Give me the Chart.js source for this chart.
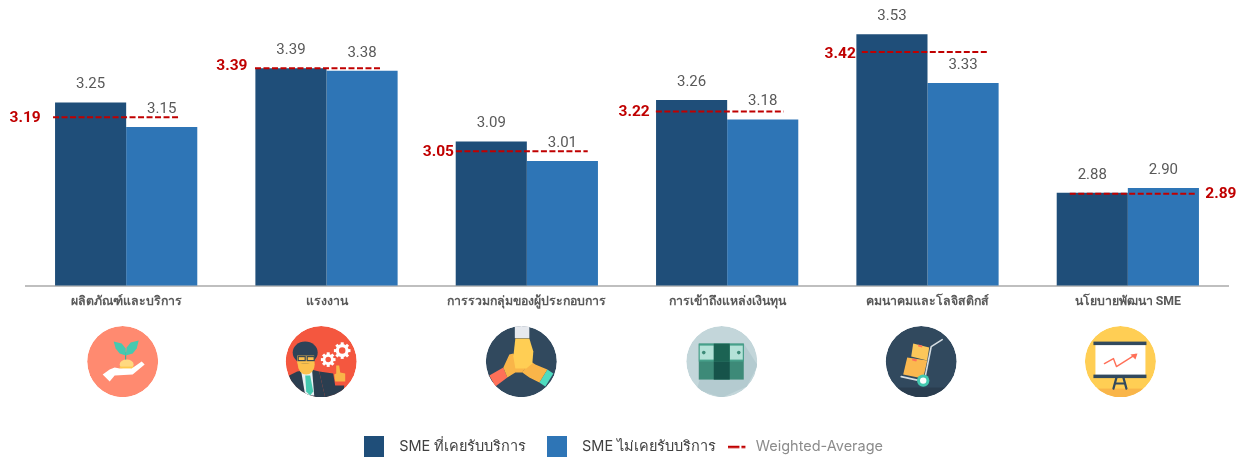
<!DOCTYPE html>
<html><head><meta charset="utf-8">
<style>html,body{margin:0;padding:0;background:#fff;overflow:hidden}#w{width:1247px;height:457px;overflow:hidden}canvas{display:block}</style>
<script src="https://cdn.jsdelivr.net/npm/chart.js@4"></script></head>
<body><div id="w"><canvas id="c" width="1247" height="464"></canvas></div>
<script>
const categories=["ผลิตภัณฑ์และบริการ","แรงงาน","การรวมกลุ่มของผู้ประกอบการ","การเข้าถึงแหล่งเงินทุน","คมนาคมและโลจิสติกส์","นโยบายพัฒนา SME"];
const usedService=[3.25,3.39,3.09,3.26,3.53,2.88];
const neverUsedService=[3.15,3.38,3.01,3.18,3.33,2.90];
const weightedAverage=[3.19,3.39,3.05,3.22,3.42,2.89];
const ruleLevels=[3.19,3.39,3.05,3.213,3.457,2.876]; // height at which each rule is drawn in the picture
const seriesNames=["SME ที่เคยรับบริการ","SME ไม่เคยรับบริการ","Weighted-Average"];

const FONT='Roboto,"Noto Sans",sans-serif';
const DARK='#1f4e79',BLUE='#2e75b6',RED='#c00000',GREY='#595959';
const ruleFrom=[-.365,-.357,-.354,-.356,-.328,-.29], ruleTo=[.265,.276,.304,.282,.305,.343];
const avgLabelDx=[-101,-94.6,-88.5,-93,-87.3,93];
const avgLabelDy=[1,-2,1,1,2,0];
const iconDx=[-3.5,-5.3,-5.5,-5.4,-6.3,-7.4];

const ruleData=[];
ruleLevels.forEach((v,i)=>{ruleData.push({x:i+ruleFrom[i],y:v},{x:i+ruleTo[i],y:v},{x:i+ruleTo[i]+.01,y:null});});

function legendMark(kind){
  const c=document.createElement('canvas');c.width=20;c.height=22;const g=c.getContext('2d');
  if(kind==='line'){g.fillStyle=RED;g.fillRect(0,10,11,2.4);g.fillRect(13,10,4,2.4);}
  else{g.fillStyle=kind;g.fillRect(0,0,20,22);}
  return c;
}
const marks=[legendMark(DARK),legendMark(BLUE),legendMark('line')];

function P(g,col,pts){g.fillStyle=col;g.beginPath();pts.forEach((p,i)=>i?g.lineTo(p[0],p[1]):g.moveTo(p[0],p[1]));g.closePath();g.fill();}
function C(g,col,x,y,r,ry){g.fillStyle=col;g.beginPath();g.ellipse(x,y,r,ry||r,0,0,7);g.fill();}
function L(g,col,w,pts){g.strokeStyle=col;g.lineWidth=w;g.lineCap='round';g.lineJoin='round';g.beginPath();pts.forEach((p,i)=>i?g.lineTo(p[0],p[1]):g.moveTo(p[0],p[1]));g.stroke();}
function gear(g,x,y,r){g.fillStyle='#fff';for(let a=0;a<8;a++){g.save();g.translate(x,y);g.rotate(a*Math.PI/4);g.fillRect(-1.5,-r-1.8,3,3);g.restore();}C(g,'#fff',x,y,r);C(g,'#f4573f',x,y,r*.5);}
const icons=[
 g=>{C(g,'#ff8a70',0,0,35.5);
  L(g,'#2fae96',1,[[3,-1],[3,-9]]);
  P(g,'#45c9b0',[[3,-6],[-3,-8],[-7,-13],[-9,-20],[-1,-18],[3,-13]]);
  P(g,'#45c9b0',[[3,-6],[10,-8],[14,-13],[16,-21],[8,-19],[4,-14]]);
  C(g,'#ffd980',4,3,7,5);g.fillStyle='#ffc94d';g.fillRect(-3,5,14,2);
  P(g,'#fff',[[-20,13],[-13,20],[-8,14],[10,13],[22,3],[19,0],[9,7],[-3,7],[-8,6],[-13,8]]);},
 g=>{C(g,'#f4573f',0,0,35.5);
  gear(g,7,-2,5.5);gear(g,21,-11,6.5);
  P(g,'#2b3e50',[[-32,14],[-24,10],[-10,8],[-2,10],[4,36],[-30,36]]);
  P(g,'#2b3e50',[[4,36],[-2,10],[12,12],[14,24],[23,24],[22,36]]);
  P(g,'#e8f0f2',[[-20,10],[-9,10],[-7,34],[-16,34]]);
  P(g,'#45c9b0',[[-16,14],[-11,14],[-8,30],[-11,34],[-15,30]]);
  C(g,'#fcc14d',-15,3,8.5,10);
  C(g,'#2d4358',-16,-9,12.5,11);
  g.fillStyle='#fcc14d';g.fillRect(-24,-6,17,8);
  g.strokeStyle='#3a4a55';g.lineWidth=1.2;g.strokeRect(-23,-5,7,4);g.strokeRect(-14,-5,7,4);
  P(g,'#f9b549',[[15,4],[18,4],[19,11],[24,12],[24,20],[14,20],[13,13],[15,12]]);},
 g=>{C(g,'#31495e',0,0,35.5);
  P(g,'#ff7058',[[-32,14],[-18,6],[-14,16],[-26,25]]);
  P(g,'#4fdcc0',[[32,12],[24,25],[18,21],[26,8]]);
  P(g,'#f9b549',[[-18,6],[-12,-7],[-8,-8],[-5,-3],[5,5],[1,11],[-6,11],[-14,16]]);
  P(g,'#f9b549',[[1,11],[8,-1],[14,3],[26,8],[18,21],[8,16]]);
  P(g,'#ffce54',[[-6,-23],[8,-23],[12,-10],[11,2],[5,7],[-6,7],[-8,-5]]);
  g.fillStyle='#e6e9ee';g.fillRect(-6.5,-36,14.5,12.5);},
 g=>{C(g,'#c3d6da',0,0,35.5);
  P(g,'#b4cbd0',[[22,-18],[36,4],[25,25],[0,36],[-25,28],[-22,18],[22,18]]);
  g.fillStyle='#3d8a78';g.fillRect(-23,-18,45,36);
  g.fillStyle='#46a08a';g.fillRect(-23,-18,45,18);
  g.fillStyle='#b4e2d8';g.fillRect(-22,-16,14,14);g.fillRect(8,-16,13,14);
  C(g,'#3d8a78',-18,-9,1.8);C(g,'#3d8a78',17,-9,1.8);
  g.fillStyle='#1b6353';g.fillRect(-8,-18,16,18);g.fillStyle='#16534a';g.fillRect(-8,0,16,18);},
 g=>{C(g,'#31495e',0,0,35.5);g.fillStyle='#2a3d4f';g.fillRect(-36,26,72,10);
  L(g,'#d5dde2',1.6,[[-20,15],[3,20],[10,-15],[21,-22]]);
  P(g,'#fbc75a',[[-8,-18],[8,-14],[6,-1],[-10,-5]]);
  P(g,'#fbb84f',[[-14,-4],[6,-1],[2,17],[-18,13]]);
  P(g,'#ff7058',[[-3,-17],[1,-16],[1,-14],[-3,-15]]);P(g,'#ff7058',[[-9,-3],[-4,-2],[-5,0],[-9,-1]]);
  C(g,'#45c9b0',2,19,6.2);C(g,'#fff',2,19,3.2);},
 g=>{C(g,'#ffce54',0,0,35.5);g.fillStyle='#f9b549';g.fillRect(-36,27,72,9);
  g.fillStyle='#fff';g.fillRect(-25,-17,50,32);
  g.fillStyle='#31495e';g.fillRect(-27,-20,53,3.5);g.fillRect(-27,13,53,3.5);
  L(g,'#31495e',2.2,[[-4,16],[-7,27]]);L(g,'#31495e',2.2,[[3,16],[6,27]]);L(g,'#31495e',2,[[-5,22],[4,22]]);
  L(g,'#ff7058',1.4,[[-16,2],[-7,-3],[-4,5],[15,-7]]);P(g,'#ff7058',[[10,-7],[17,-8],[15,-2]]);}
];

const plugin={id:'annot',
 afterDatasetsDraw(ch){
  const g=ch.ctx,xs=ch.scales.x,ys=ch.scales.y;
  g.save();g.textAlign='center';g.textBaseline='middle';
  g.font='15px '+FONT;g.fillStyle=GREY;
  [0,1].forEach(d=>ch.getDatasetMeta(d).data.forEach((b,i)=>{
    g.fillText(ch.data.datasets[d].data[i].toFixed(2),b.x,b.y-18);}));
  g.font='bold 15.5px '+FONT;g.fillStyle=RED;
  weightedAverage.forEach((v,i)=>g.fillText(v.toFixed(2),xs.getPixelForValue(i)+avgLabelDx[i],ys.getPixelForValue(ruleLevels[i])+avgLabelDy[i]));
  g.restore();
  icons.forEach((f,i)=>{g.save();g.translate(xs.getPixelForValue(i)+iconDx[i],361.6);
    g.beginPath();g.arc(0,0,35.5,0,7);g.clip();f(g);g.restore();});
 }};

new Chart(document.getElementById('c'),{
 data:{labels:categories,datasets:[
  {type:'bar',label:seriesNames[0],data:usedService,backgroundColor:DARK,order:2},
  {type:'bar',label:seriesNames[1],data:neverUsedService,backgroundColor:BLUE,order:2},
  {type:'line',label:seriesNames[2],data:ruleData,parsing:false,normalized:false,borderColor:RED,borderWidth:2,borderDash:[6,2.5],pointRadius:0,spanGaps:false,order:1}
 ]},
 options:{responsive:false,animation:false,
  layout:{padding:{left:26,right:19,top:0,bottom:0}},
  datasets:{bar:{categoryPercentage:.71,barPercentage:1}},
  scales:{
   x:{type:'category',grid:{display:false},border:{color:'#bfbfbf',width:2},
      ticks:{color:GREY,font:{family:FONT,size:12.3,weight:'bold'},padding:1,maxRotation:0,autoSkip:false},
      afterFit(s){s.height=150;}},
   y:{display:false,min:2.5,max:3.67}
  },
  plugins:{tooltip:{enabled:false},
   legend:{position:'bottom',labels:{usePointStyle:true,pointStyleWidth:20,padding:4,font:{family:'Inter,'+FONT,size:14.5},
    generateLabels(){return [
     {text:'  '+seriesNames[0]+'    ',pointStyle:marks[0],fontColor:'#404040',fillStyle:DARK,strokeStyle:DARK,lineWidth:0,datasetIndex:0},
     {text:'  '+seriesNames[1]+'  ',pointStyle:marks[1],fontColor:'#404040',fillStyle:BLUE,strokeStyle:BLUE,lineWidth:0,datasetIndex:1},
     {text:seriesNames[2]+'\u2002',pointStyle:marks[2],fontColor:'#8c8c8c',fillStyle:RED,strokeStyle:RED,lineWidth:0,datasetIndex:2}];}}}}
 },plugins:[plugin]});
</script></body></html>
